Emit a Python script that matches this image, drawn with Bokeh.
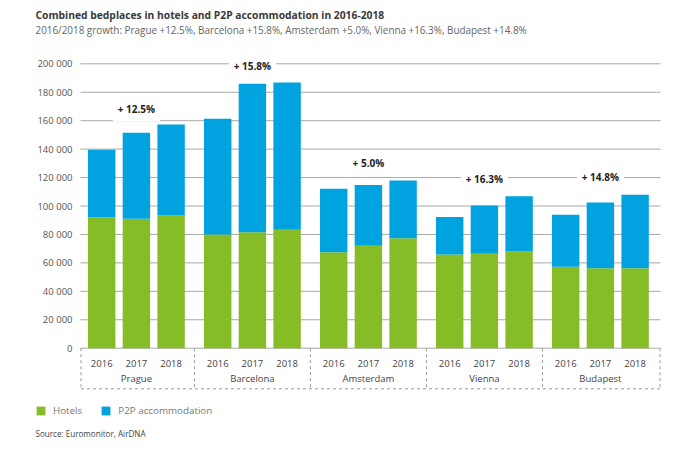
from bokeh.plotting import figure
from bokeh.models import Range1d, Label, Legend, LegendItem, ColumnDataSource
from bokeh.core.properties import value
from bokeh.embed import file_html
from bokeh.resources import INLINE

# ---------------- data ----------------
cities = ["Prague", "Barcelona", "Amsterdam", "Vienna", "Budapest"]
years = ["2016", "2017", "2018"]
hotels = [92000, 91000, 93300,
          80000, 81600, 83300,
          67500, 72000, 77400,
          65900, 66400, 68000,
          57200, 56300, 56300]
p2p = [47500, 60500, 64000,
       81300, 104400, 103500,
       44600, 42700, 40600,
       26300, 34000, 38900,
       36600, 46200, 51600]
growth = ["+ 12.5%", "+ 15.8%", "+ 5.0%", "+ 16.3%", "+ 14.8%"]
y_ticks = [0, 20000, 40000, 60000, 80000, 100000, 120000, 140000, 160000, 180000, 200000]
y_tick_labels = ["0", "20 000", "40 000", "60 000", "80 000", "100 000", "120 000",
                 "140 000", "160 000", "180 000", "200 000"]
series_names = ["Hotels", "P2P accommodation"]

title = "Combined bedplaces in hotels and P2P accommodation in 2016-2018"
subtitle = ("2016/2018 growth: Prague +12.5%, Barcelona +15.8%, Amsterdam +5.0%, "
            "Vienna +16.3%, Budapest +14.8%")
source_note = "Source: Euromonitor, AirDNA"

# ---------------- layout constants ----------------
W, H = 682, 454
GREEN = "#86BC25"
BLUE = "#00A3E0"
GP = 0.343                 # gap between city groups (in bar slots)
UNIT_PX = 34.7             # width of one bar slot in pixels
FIRST_CENTER_PX = 101.2    # pixel x of the first bar centre
ZERO_PX = 347.7            # pixel y of value 0
VAL_PER_PX = 200000 / 284.4

X0 = 0.5 - FIRST_CENTER_PX / UNIT_PX
X1 = X0 + W / UNIT_PX
Y1 = ZERO_PX * VAL_PER_PX
Y0 = -(H - ZERO_PX) * VAL_PER_PX


def px_x(px):
    return X0 + px / UNIT_PX


def px_y(py):
    return (ZERO_PX - py) * VAL_PER_PX


growth_label_y = [168000, 198800, 130000, 119300, 120300]

# slot positions of the bars, derived from the category indices
n_y = len(years)
xs, year_txt = [], []
for gi, c in enumerate(cities):
    for yi, yr in enumerate(years):
        xs.append(gi * (n_y + GP) + yi + 0.5)
        year_txt.append(yr)
group_centers = [gi * (n_y + GP) + n_y / 2 for gi in range(len(cities))]

src = ColumnDataSource(dict(x=xs, hotels=hotels, p2p=p2p, year=year_txt))

p = figure(width=W, height=H, x_range=Range1d(X0, X1), y_range=Range1d(Y0, Y1),
           output_backend="svg", toolbar_location=None,
           x_axis_location=None, y_axis_location=None,
           min_border=0, min_border_left=0, min_border_right=0,
           min_border_top=0, min_border_bottom=0)
p.outline_line_color = None
p.background_fill_color = "white"
p.border_fill_color = "white"
p.xgrid.visible = False
p.ygrid.visible = False

# gridlines + y tick labels
gx0, gx1 = px_x(80), px_x(660)
p.segment(x0=[gx0] * len(y_ticks), x1=[gx1] * len(y_ticks), y0=y_ticks, y1=y_ticks,
          line_color="#a8a8a8", line_width=1)
p.text(x=[px_x(72)] * len(y_ticks), y=y_ticks, text=y_tick_labels,
       text_align="right", text_baseline="middle", text_font=value("Open Sans"),
       text_font_size=value("9.5px"), text_color="#555555")

# bars
rs = p.vbar_stack(["hotels", "p2p"], x="x", width=0.79, color=[GREEN, BLUE],
                  line_color=None, source=src)

# category labels
p.text(x="x", y=px_y(363.3), text="year", source=src, text_align="center",
       text_baseline="middle", text_font=value("Open Sans"),
       text_font_size=value("9.5px"), text_color="#444444")
p.text(x=group_centers, y=[px_y(378.3)] * len(cities), text=cities,
       text_align="center", text_baseline="middle", text_font=value("Open Sans"),
       text_font_size=value("9.5px"), text_color="#444444")

# dashed box with separators
seps = [px_x(80.5)]
for gi in range(1, len(cities)):
    seps.append(gi * (n_y + GP) - GP / 2)
seps.append(px_x(659.5))
box_bottom = px_y(388.3)
p.segment(x0=seps, y0=[0] * len(seps), x1=seps, y1=[box_bottom] * len(seps),
          line_color="#999999", line_width=1, line_dash="3 3")
p.segment(x0=[seps[0]], y0=[box_bottom], x1=[seps[-1]], y1=[box_bottom],
          line_color="#999999", line_width=1, line_dash="3 3")

# growth annotations
for gx, g, gy in zip(group_centers, growth, growth_label_y):
    p.add_layout(Label(x=gx, y=gy, text=g, text_align="center",
                       text_baseline="middle", text_font="Open Sans",
                       text_font_size="10px", text_font_style="bold",
                       text_color="#222222", background_fill_color="white",
                       padding=5))

# title, subtitle, source
p.text(x=[px_x(35)], y=[px_y(14.7)], text=[title], text_baseline="middle",
       text_font=value("Open Sans"), text_font_size=value("10.3px"),
       text_font_style="bold", text_color="#3a3a3a")
p.text(x=[px_x(35)], y=[px_y(29.3)], text=[subtitle], text_baseline="middle",
       text_font=value("Open Sans"), text_font_size=value("9.9px"),
       text_color="#666666")
p.text(x=[px_x(35)], y=[px_y(432.7)], text=[source_note], text_baseline="middle",
       text_font=value("Open Sans"), text_font_size=value("8.1px"),
       text_color="#444444")

legend = Legend(items=[LegendItem(label=series_names[0], renderers=[rs[0]]),
                       LegendItem(label=series_names[1], renderers=[rs[1]])],
                orientation="horizontal", location=(35, H - 416.5),
                glyph_width=11, glyph_height=11, label_height=11,
                label_standoff=7, spacing=18, padding=0, margin=0,
                border_line_color=None, background_fill_alpha=0,
                label_text_font="Open Sans", label_text_font_size="9.8px",
                label_text_color="#777777")
p.add_layout(legend, "center")

open("out.html", "w").write(file_html(p, INLINE))
